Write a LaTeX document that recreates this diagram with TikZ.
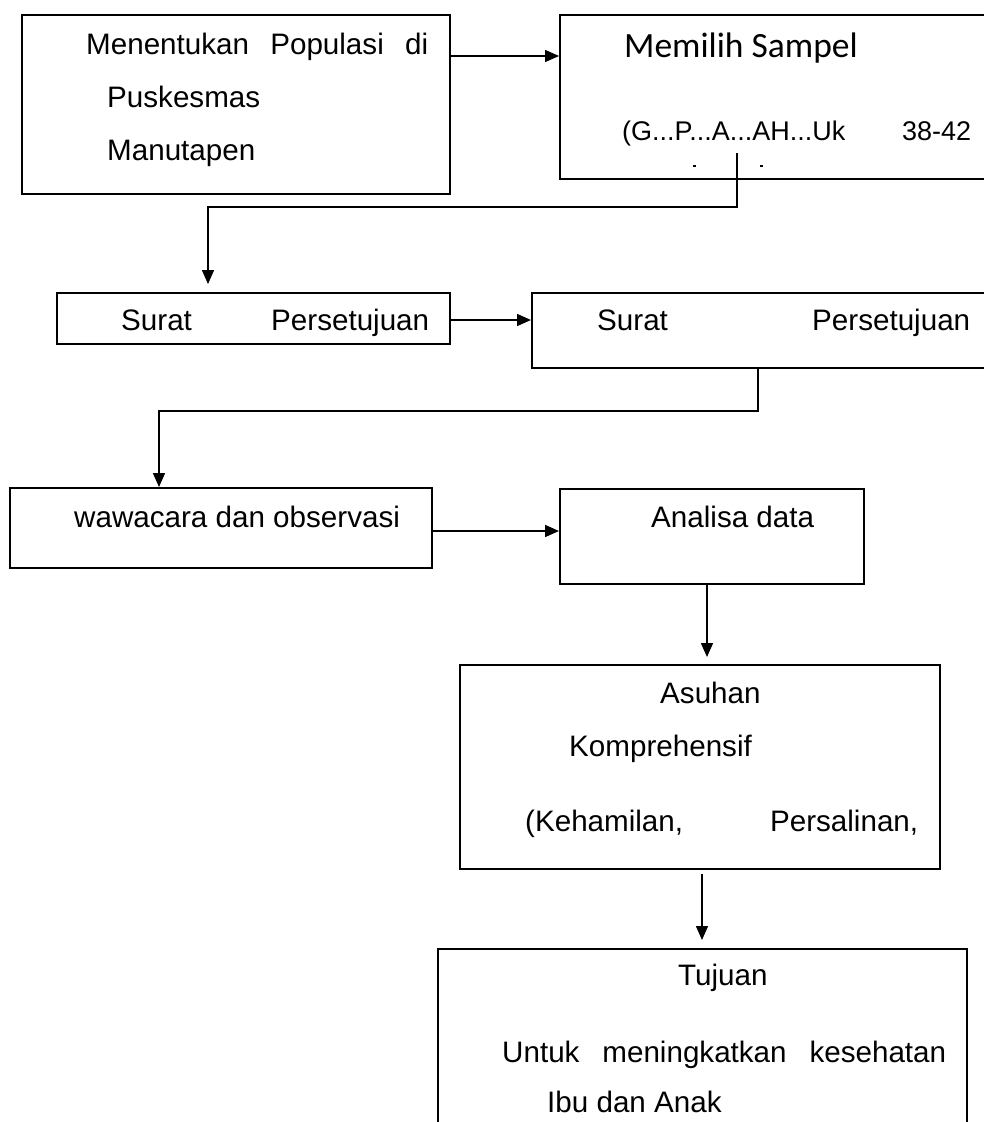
\documentclass[tikz,border=0pt]{standalone}
\usepackage{fontspec}
\setmainfont{Liberation Sans}
\newfontfamily\calfont{Carlito}
\usetikzlibrary{arrows.meta}
\tikzset{
  box/.style={draw, line width=1.8pt, anchor=north west, inner sep=0pt},
  arr/.style={line width=1.5pt, -{Triangle[length=14pt,width=12pt]}},
  ln/.style={line width=1.5pt},
  txt/.style={anchor=base west, inner sep=0pt, font=\fontsize{29.6}{36}\selectfont},
}
\begin{document}
\begin{tikzpicture}[x=1pt,y=-1pt]
\useasboundingbox[fill=white] (0,0) rectangle (984,1122);
\clip (0,0) rectangle (984,1122);
% boxes
\node[box, minimum width=428pt, minimum height=179pt] (b1) at (21,14) {};
\node[box, minimum width=460pt, minimum height=164pt] (b2) at (559,14) {};
\node[box, minimum width=393pt, minimum height=51pt] (b3) at (56,292) {};
\node[box, minimum width=480pt, minimum height=75pt] (b4) at (531,292) {};
\node[box, minimum width=422pt, minimum height=80pt] (b5) at (9,487) {};
\node[box, minimum width=304pt, minimum height=95pt] (b6) at (559,488) {};
\node[box, minimum width=480pt, minimum height=204pt] (b7) at (459,664) {};
\node[box, minimum width=529pt, minimum height=220pt] (b8) at (437,948) {};
% texts
\node[txt] (t1a) at (86,54) {\hbox to 342pt{Menentukan\hfill Populasi\hfill di}};
\node[txt] (t1b) at (107,107) {Puskesmas};
\node[txt] (t1c) at (107,160) {Manutapen};
\node[txt, font=\calfont\fontsize{35.5}{40}\selectfont] (t2a) at (624,57) {Memilih Sampel};
\node[txt, font=\fontsize{27}{32}\selectfont] (t2b) at (622,140) {\hbox to 349pt{(G...P...A...AH...Uk\hfill 38-42}};
\node[txt] (t3) at (121,330) {\hbox to 308pt{Surat\hfill Persetujuan}};
\node[txt] (t4) at (597,330) {\hbox to 373pt{Surat\hfill Persetujuan}};
\node[txt] (t5) at (74,527) {wawacara dan observasi};
\node[txt] (t6) at (651,527) {Analisa data};
\node[txt] (t7a) at (660,703) {Asuhan};
\node[txt] (t7b) at (569,756) {Komprehensif};
\node[txt] (t7c) at (525,831) {\hbox to 393pt{(Kehamilan,\hfill Persalinan,}};
\node[txt] (t8a) at (678,985) {Tujuan};
\node[txt] (t8b) at (502,1062) {\hbox to 444pt{Untuk\hfill meningkatkan\hfill kesehatan}};
\node[txt] (t8c) at (547,1112) {Ibu dan Anak};
% tiny marks of clipped text
\draw[line width=1.2pt] (693,166) -- (696,166);
\draw[line width=1.2pt] (760,166) -- (763,166);
% connector coordinates
\coordinate (c2s) at (737,153);
\coordinate (c2a) at (737,207);
\coordinate (c2b) at (208,207);
\coordinate (c2e) at (208,284);
\coordinate (c4s) at (758,367);
\coordinate (c4a) at (758,411);
\coordinate (c4b) at (159,411);
\coordinate (c4e) at (159,487);
\coordinate (c6s) at (707,583);
\coordinate (c6e) at (707,657);
\coordinate (c7s) at (702,874);
\coordinate (c7e) at (702,940);
% connectors
\draw[arr] (b1.east |- 0,56) -- (b2.west |- 0,56);
\draw[arr] (c2s) -- (c2a) -- (c2b) -- (c2e);
\draw[arr] (b3.east |- 0,320) -- (b4.west |- 0,320);
\draw[arr] (c4s) -- (c4a) -- (c4b) -- (c4e);
\draw[arr] (b5.east |- 0,531) -- (b6.west |- 0,531);
\draw[arr] (c6s) -- (c6e);
\draw[arr] (c7s) -- (c7e);
\end{tikzpicture}
\end{document}
